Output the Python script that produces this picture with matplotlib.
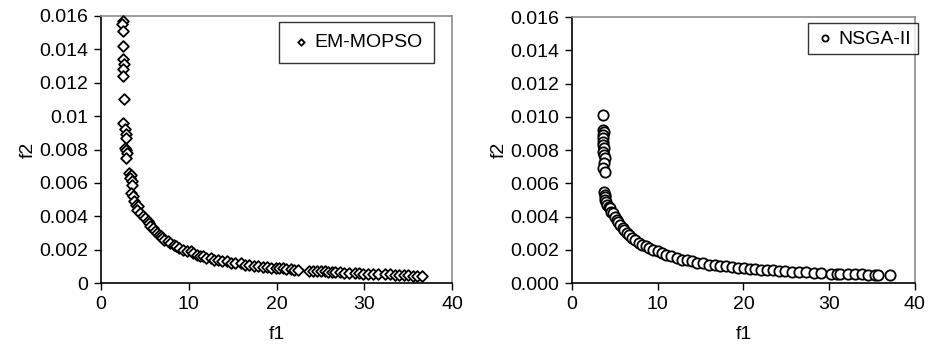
import matplotlib
matplotlib.use("Agg")
import matplotlib.pyplot as plt

plt.rcParams['font.family'] = ['Liberation Sans', 'DejaVu Sans']

# ---------------- data ----------------
em_f1 = [2.5, 2.4, 2.5, 2.5, 2.5, 2.6, 2.5, 2.5, 2.6, 2.5, 2.7, 2.8, 2.8, 2.7, 2.9, 3.0, 2.9,
         3.2, 3.4, 3.3, 3.5, 3.5, 3.4, 3.7, 3.8, 4.0, 4.2, 4.1, 4.5, 4.8, 5.0, 5.3, 5.5, 5.6,
         5.9, 6.2, 6.4, 6.6, 6.8, 6.9, 7.2, 7.6, 7.9, 8.3, 8.6, 8.9, 9.3, 9.8, 10.2, 10.5,
         10.9, 11.3, 11.6, 12.0, 12.5, 12.9, 13.3, 13.8, 14.3, 14.8, 15.3, 15.9, 16.4, 16.9,
         17.4, 17.9, 18.4, 18.9, 19.4, 19.9, 20.3, 20.7, 21.1, 21.6, 22.0, 22.4, 23.7, 24.1,
         24.6, 25.1, 25.5, 25.9, 26.3, 26.7, 27.2, 27.7, 28.3, 28.9, 29.4, 29.9, 30.4, 31.0,
         31.6, 32.3, 32.9, 33.5, 34.0, 34.5, 35.0, 35.5, 36.0, 36.6]
em_f2 = [0.0157, 0.0155, 0.0151, 0.0142, 0.0134, 0.0131, 0.0128, 0.0124, 0.0110, 0.0096,
         0.0092, 0.0089, 0.0087, 0.0081, 0.0080, 0.0078, 0.0075, 0.0066, 0.0065, 0.0063,
         0.0061, 0.0059, 0.0054, 0.0052, 0.0049, 0.0047, 0.0046, 0.0044, 0.0042, 0.0040,
         0.0039, 0.0037, 0.0036, 0.0034, 0.0033, 0.0031, 0.0030, 0.0029, 0.0028, 0.0027,
         0.0026, 0.0025, 0.0024, 0.0023, 0.0022, 0.0021, 0.0020, 0.0019, 0.0019, 0.0018,
         0.0017, 0.0016, 0.0016, 0.0015, 0.0015, 0.0014, 0.0014, 0.0013, 0.0013, 0.0012,
         0.0012, 0.0012, 0.0011, 0.0011, 0.0010, 0.0010, 0.00098, 0.00095, 0.00092, 0.00090,
         0.00088, 0.00087, 0.00085, 0.00082, 0.00080, 0.00078, 0.00074, 0.00072, 0.00071,
         0.00070, 0.00069, 0.00068, 0.00066, 0.00065, 0.00064, 0.00062, 0.00061, 0.00060,
         0.00058, 0.00057, 0.00056, 0.00055, 0.00054, 0.00053, 0.00052, 0.00051, 0.00050,
         0.00048, 0.00046, 0.00045, 0.00044, 0.00043]

ns_f1 = [3.6, 3.6, 3.7, 3.6, 3.6, 3.6, 3.6, 3.7, 3.6, 3.7, 3.8, 3.7, 3.6, 3.8,
         3.7, 3.8, 3.8, 3.9, 4.0, 4.1, 4.3, 4.4, 4.6, 4.8, 5.0, 5.2, 5.4, 5.6, 5.9, 6.1,
         6.4, 6.7, 7.0, 7.4, 7.8, 8.2, 8.6, 9.0, 9.5, 10.0, 10.5, 11.0, 11.6, 12.2, 12.8,
         13.4, 14.0, 14.6, 15.3, 16.0, 16.7, 17.3, 18.0, 18.7, 19.4, 20.1, 20.8, 21.4,
         22.0, 22.7, 23.4, 24.1, 24.9, 25.7, 26.5, 27.3, 28.2, 29.1, 30.2, 30.9, 31.3,
         32.2, 33.0, 33.8, 34.5, 35.3, 35.7, 37.1]
ns_f2 = [0.0101, 0.0092, 0.0091, 0.0089, 0.0087, 0.0085, 0.0083, 0.0081, 0.0079, 0.0077,
         0.0075, 0.0072, 0.0069, 0.0067,
         0.0055, 0.0053, 0.0052, 0.0050, 0.0049, 0.0047, 0.0046, 0.0045, 0.0043, 0.0042,
         0.0040, 0.0038, 0.0037, 0.0035, 0.0033, 0.0032, 0.0030, 0.0029, 0.0027, 0.0026,
         0.0024, 0.0023, 0.0022, 0.0021, 0.0020, 0.0019, 0.0018, 0.0017, 0.0016, 0.0015,
         0.0014, 0.0014, 0.0013, 0.0012, 0.0012, 0.0011, 0.0011, 0.0010, 0.0010, 0.00095,
         0.00090, 0.00088, 0.00085, 0.00082, 0.00080, 0.00078, 0.00076, 0.00073, 0.00071,
         0.00068, 0.00066, 0.00064, 0.00062, 0.00060, 0.00057, 0.00056, 0.00055, 0.00054,
         0.00053, 0.00052, 0.00050, 0.00049, 0.00048, 0.00047]

x_ticks = [0, 10, 20, 30, 40]
y_ticks = [0, 0.002, 0.004, 0.006, 0.008, 0.010, 0.012, 0.014, 0.016]
left_ylabels = ['0', '0.002', '0.004', '0.006', '0.008', '0.01', '0.012', '0.014', '0.016']
right_ylabels = ['0.000', '0.002', '0.004', '0.006', '0.008', '0.010', '0.012', '0.014', '0.016']

# ---------------- figure ----------------
fig = plt.figure(figsize=(9.29, 3.47), dpi=100)
ax1 = fig.add_axes([0.1087, 0.1844, 0.378, 0.7695])
ax2 = fig.add_axes([0.6157, 0.1844, 0.369, 0.7665])

FS = 14

def style(ax, ylabels, label, marker, ms, f1, f2, anchor, bpad):
    ax.scatter(f1, f2, marker=marker, s=ms, facecolors='white', edgecolors='black',
               linewidths=1.3, label=label, zorder=3, clip_on=False)
    ax.set_xlim(0, 40)
    ax.set_ylim(0, 0.016)
    ax.set_xticks(x_ticks)
    ax.set_xticklabels([str(t) for t in x_ticks])
    ax.set_yticks(y_ticks)
    ax.set_yticklabels(ylabels)
    ax.tick_params(direction='out', length=5, width=1, labelsize=FS, top=False, right=False,
                   color='black', pad=4)
    for s in ['top', 'right']:
        ax.spines[s].set_color('#8c8c8c')
        ax.spines[s].set_linewidth(1.2)
    for s in ['left', 'bottom']:
        ax.spines[s].set_color('black')
        ax.spines[s].set_linewidth(1.2)
    ax.set_xlabel('f1', fontsize=FS, labelpad=10)
    ax.set_ylabel('f2', fontsize=FS, labelpad=2)
    leg = ax.legend(loc='upper right', bbox_to_anchor=anchor, fontsize=FS, frameon=True,
                    fancybox=False, edgecolor='black', handletextpad=0.2, borderpad=bpad,
                    markerscale=0.6, handlelength=1.0, borderaxespad=0.0)
    leg.get_frame().set_linewidth(1.0)
    leg.set_zorder(5)

style(ax1, left_ylabels, 'EM-MOPSO', 'D', 30, em_f1, em_f2, (0.949, 0.977), 0.6)
style(ax2, right_ylabels, 'NSGA-II', 'o', 55, ns_f1, ns_f2, (1.009, 0.977), 0.35)

fig.savefig('out.png', dpi=100)
